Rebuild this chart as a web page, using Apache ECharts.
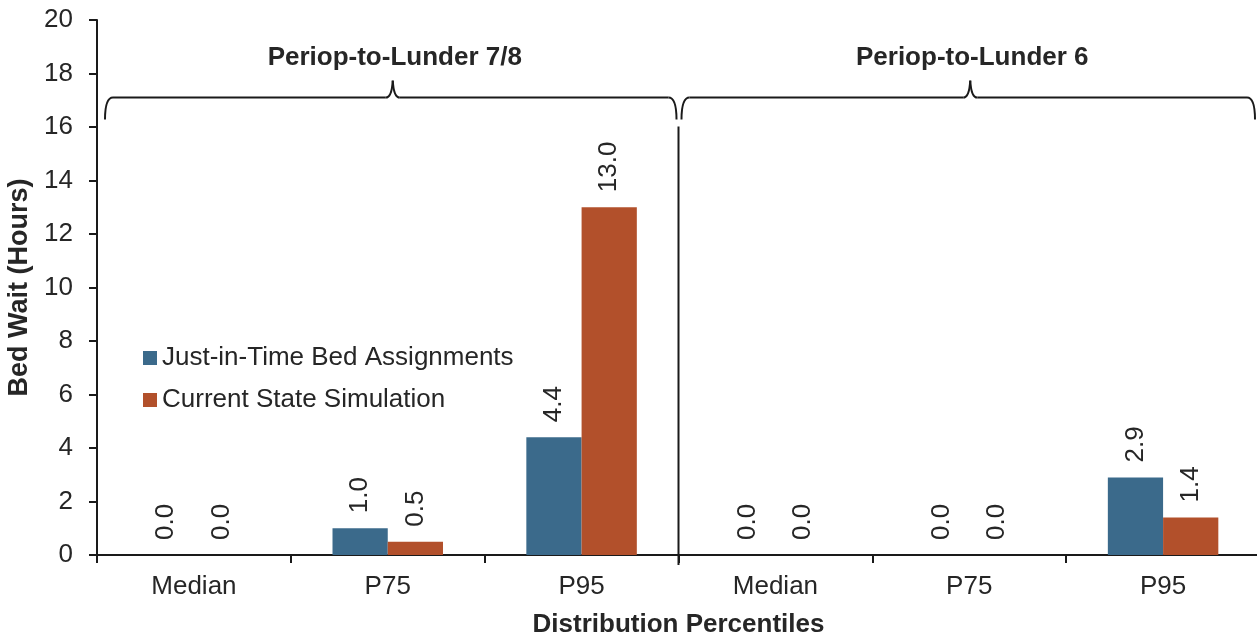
<!DOCTYPE html>
<html>
<head>
<meta charset="utf-8">
<script src="https://cdn.jsdelivr.net/npm/echarts@6/dist/echarts.min.js"></script>
<style>
  html, body { margin: 0; padding: 0; background: #fff; }
  #chart { width: 1257px; height: 635px; }
</style>
</head>
<body>
<div id="chart"></div>
<script>
// Bed wait percentiles for two unit pairings
const categories = ['Median', 'P75', 'P95', 'Median', 'P75', 'P95'];
const justInTime = [0.0, 1.0, 4.4, 0.0, 0.0, 2.9];
const currentState = [0.0, 0.5, 13.0, 0.0, 0.0, 1.4];
const seriesNames = ['Just-in-Time Bed Assignments', 'Current State Simulation'];
const groups = [
  { name: 'Periop-to-Lunder 7/8', from: 0, to: 2 },
  { name: 'Periop-to-Lunder 6', from: 3, to: 5 }
];
const yTicks = { min: 0, max: 20, interval: 2 };

const FONT = '"Liberation Sans", Arial, sans-serif';
const TEXT = '#262626';
const AXIS = '#1a1a1a';

const chart = echarts.init(document.getElementById('chart'), null, { renderer: 'canvas' });

const valueLabel = {
  show: true,
  position: 'top',
  distance: 15,
  rotate: 90,
  align: 'left',
  verticalAlign: 'middle',
  fontFamily: FONT,
  fontSize: 26,
  color: TEXT,
  formatter: p => p.value.toFixed(1)
};

chart.setOption({
  animation: false,
  backgroundColor: '#fff',
  textStyle: { fontFamily: FONT },
  grid: { left: 97, right: -3, top: 20, bottom: 80, containLabel: false, outerBoundsMode: 'none' },
  legend: {
    orient: 'vertical',
    left: 138,
    top: 340,
    itemWidth: 14,
    itemHeight: 14,
    itemGap: 16,
    icon: 'rect',
    textStyle: { fontFamily: FONT, fontSize: 26, color: TEXT },
    data: seriesNames
  },
  xAxis: {
    type: 'category',
    data: categories,
    name: 'Distribution Percentiles',
    nameLocation: 'middle',
    nameGap: 57,
    nameTextStyle: { fontFamily: FONT, fontSize: 26, fontWeight: 'bold', color: TEXT },
    axisLine: { lineStyle: { color: AXIS, width: 2 } },
    axisTick: { show: true, length: 8, lineStyle: { color: AXIS, width: 2 } },
    axisLabel: { fontFamily: FONT, fontSize: 26, color: TEXT, margin: 19, interval: 0 }
  },
  yAxis: {
    type: 'value',
    min: yTicks.min,
    max: yTicks.max,
    interval: yTicks.interval,
    name: 'Bed Wait (Hours)',
    nameLocation: 'middle',
    nameGap: 57,
    nameRotate: 90,
    nameTextStyle: { fontFamily: FONT, fontSize: 27, fontWeight: 'bold', color: TEXT },
    axisLine: { show: true, lineStyle: { color: AXIS, width: 2 } },
    axisTick: { show: true, length: 8, lineStyle: { color: AXIS, width: 2 } },
    axisLabel: { fontFamily: FONT, fontSize: 26, color: TEXT, margin: 24 },
    splitLine: { show: false }
  },
  series: [
    {
      name: seriesNames[0],
      type: 'bar',
      data: justInTime,
      barGap: '0%',
      barCategoryGap: '43%',
      itemStyle: { color: '#3B6A8B' },
      label: valueLabel
    },
    {
      name: seriesNames[1],
      type: 'bar',
      data: currentState,
      itemStyle: { color: '#B2502B' },
      label: valueLabel
    }
  ]
});

// Group braces, titles and the divider between the two pairings,
// positioned from the category axis scale.
function drawAnnotations() {
  const y0 = chart.convertToPixel({ yAxisIndex: 0 }, 0);
  const yBrace = chart.convertToPixel({ yAxisIndex: 0 }, 17.1);
  const x0 = chart.convertToPixel({ xAxisIndex: 0 }, 0);
  const x1 = chart.convertToPixel({ xAxisIndex: 0 }, 1);
  const band = x1 - x0;
  const stroke = { stroke: AXIS, lineWidth: 2, fill: null };
  const elements = [];
  const curve = (xa, ya, cx, cy, xb, yb) => ({
    type: 'bezierCurve', silent: true,
    shape: { x1: xa, y1: ya, cpx1: cx, cpy1: cy, x2: xb, y2: yb },
    style: stroke
  });
  const seg = (xa, ya, xb, yb) => ({
    type: 'line', silent: true,
    shape: { x1: xa, y1: ya, x2: xb, y2: yb },
    style: stroke
  });

  groups.forEach((g, i) => {
    const left = chart.convertToPixel({ xAxisIndex: 0 }, g.from) - band / 2;
    const right = chart.convertToPixel({ xAxisIndex: 0 }, g.to) + band / 2;
    const a = left + (i === 0 ? 8 : 3);
    const b = right - (i === 0 ? 2 : 5);
    const mid = (a + b) / 2 + 2;
    const y = yBrace;
    elements.push(
      curve(a, y + 22, a, y, a + 8, y),
      seg(a + 8, y, mid - 7, y),
      curve(mid - 7, y, mid - 1, y, mid, y - 17),
      curve(mid, y - 17, mid + 1, y, mid + 7, y),
      seg(mid + 7, y, b - 8, y),
      curve(b - 8, y, b, y, b, y + 22)
    );
    elements.push({
      type: 'text',
      x: mid + 2,
      y: y - 40,
      style: {
        text: g.name,
        fontFamily: FONT,
        fontSize: 26,
        fontWeight: 'bold',
        fill: TEXT,
        align: 'center',
        verticalAlign: 'middle'
      },
      silent: true
    });
    if (i < groups.length - 1) {
      elements.push(seg(right, yBrace + 29, right, y0 + 10));
    }
  });

  chart.setOption({ graphic: { elements } });
}

drawAnnotations();
</script>
</body>
</html>
